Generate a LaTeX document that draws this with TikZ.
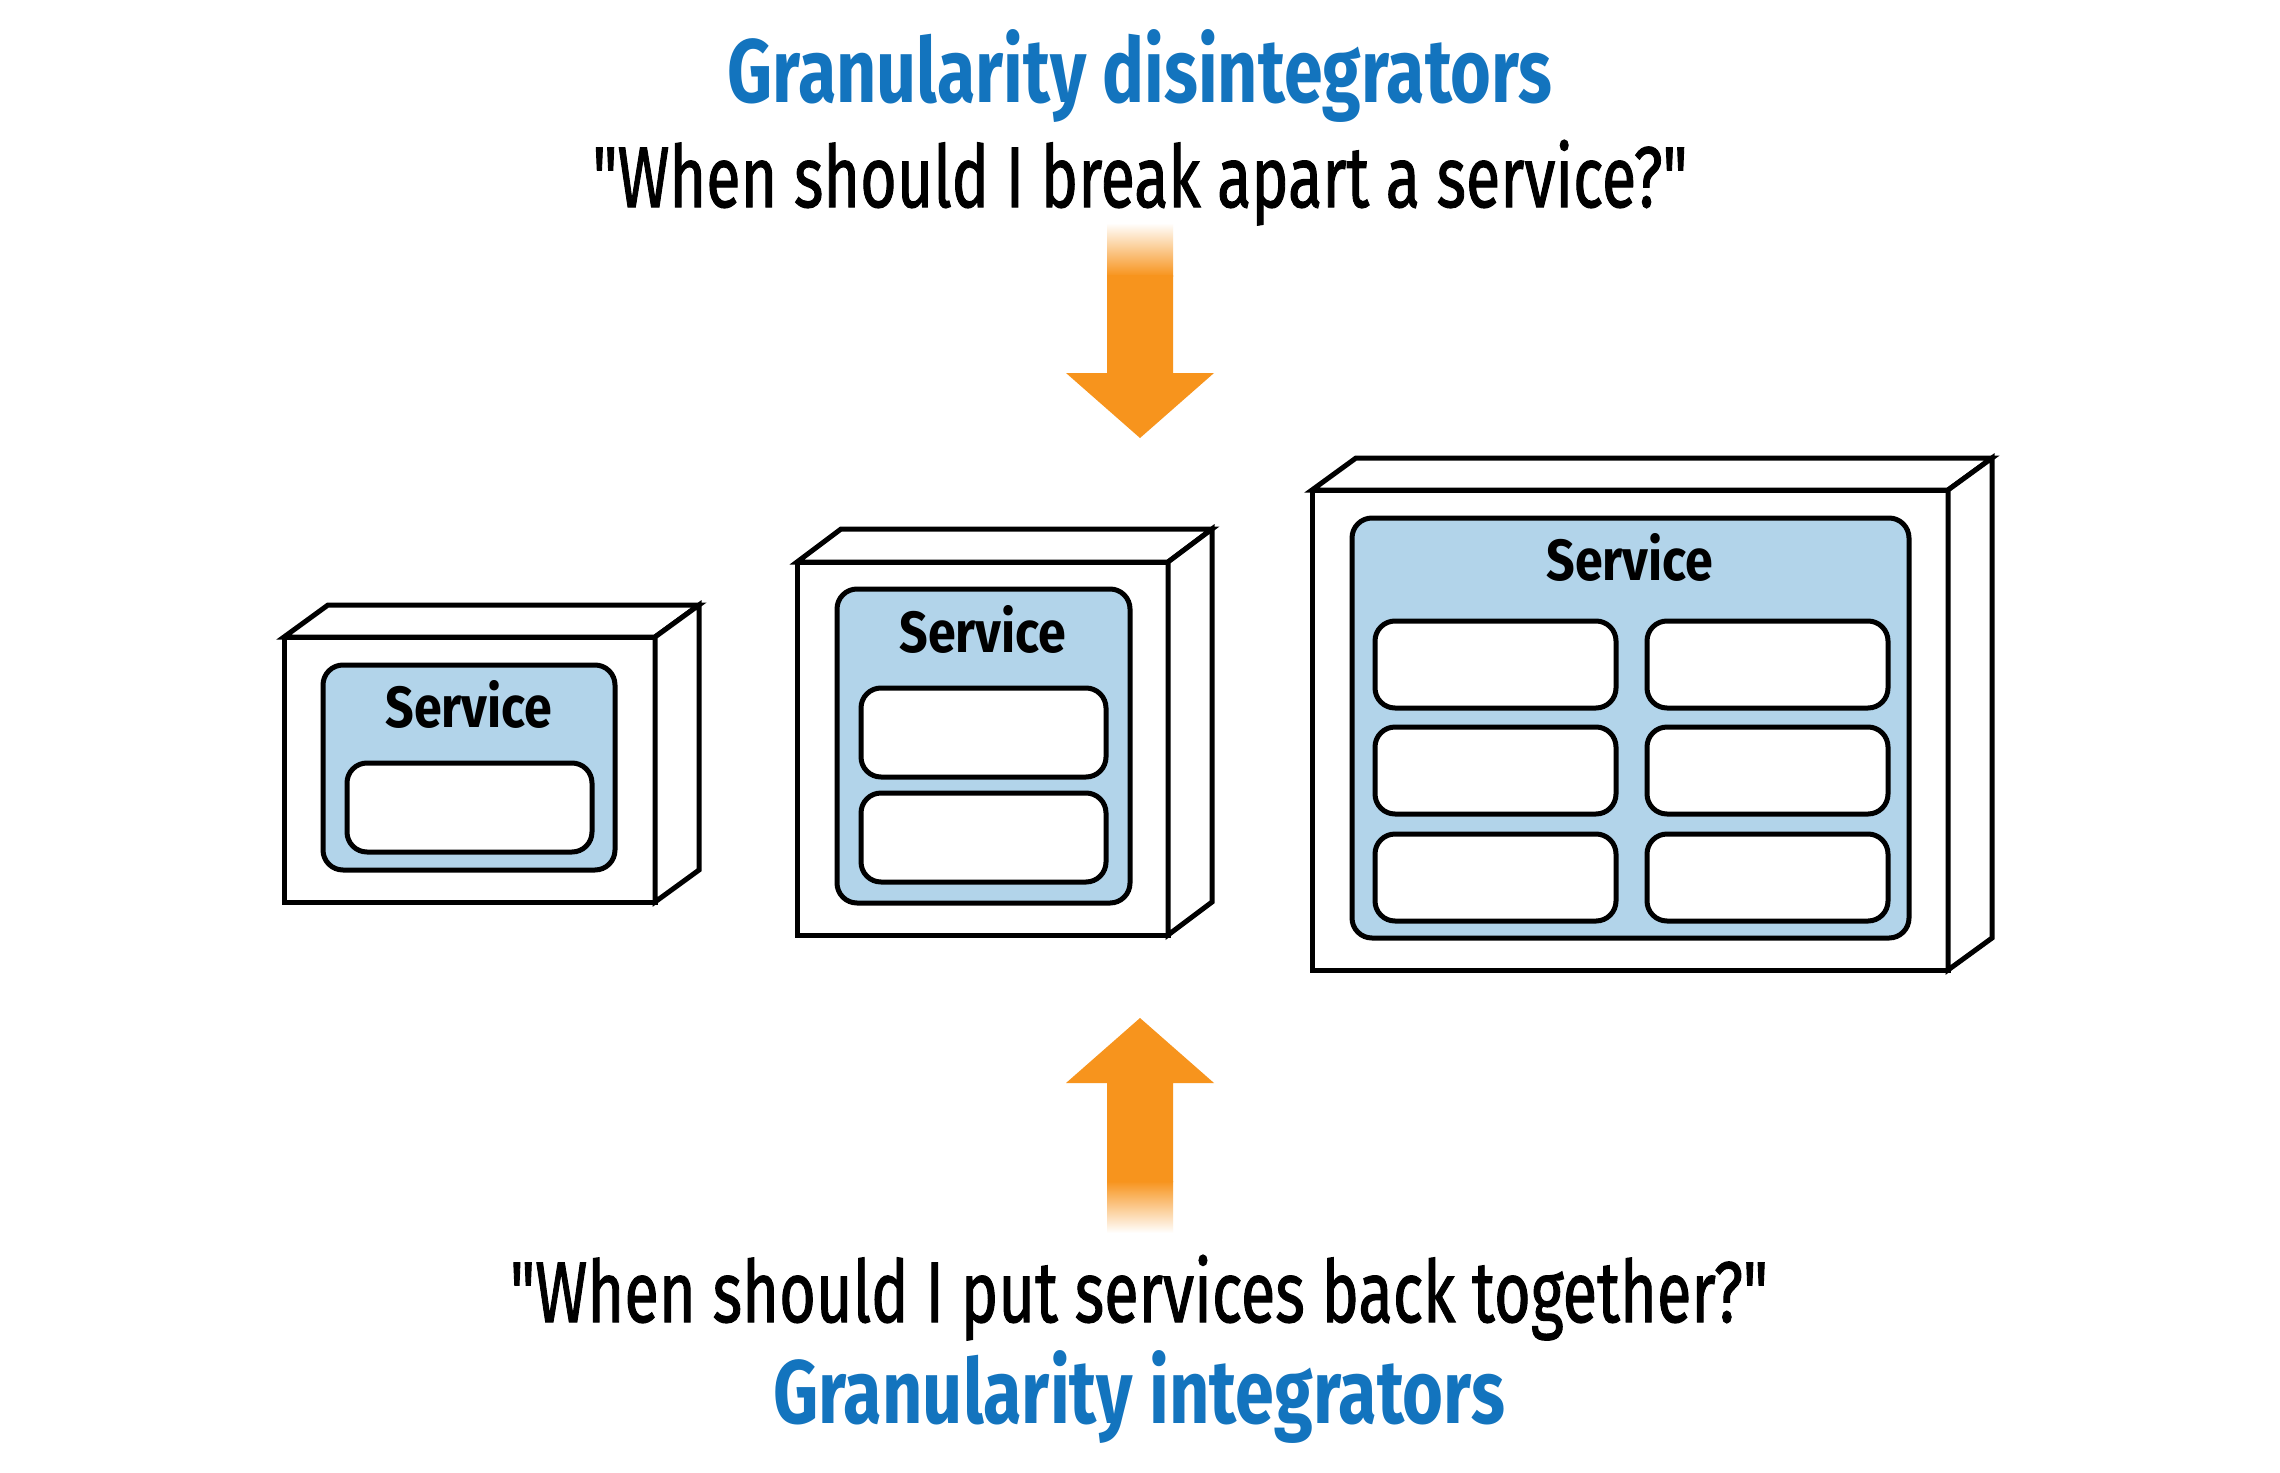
\documentclass[tikz,border=0pt]{standalone}
\usepackage{graphicx}
\usepackage{fontspec}
\setmainfont[Ligatures=TeXOff]{Fira Sans}
\newfontfamily\quotefont[Ligatures=TeXOff,FakeBold=1.4]{Fira Sans}

\definecolor{ttlblue}{RGB}{19,116,190}
\definecolor{svcblue}{RGB}{178,212,234}
\definecolor{arrorange}{RGB}{247,148,29}

\tikzset{
  face/.style={draw=black,fill=white,line width=5pt,line join=miter},
  svcpanel/.style={draw=black,fill=svcblue,line width=5pt,rounded corners=20pt},
  part/.style={draw=black,fill=white,line width=5pt,rounded corners=20pt},
  ttl/.style={anchor=base,inner sep=0pt,text=ttlblue,font=\fontsize{90}{100}\selectfont\bfseries},
  quote/.style={anchor=base,inner sep=0pt,text=black,font=\fontsize{86}{96}\quotefont},
  svctext/.style={anchor=base,inner sep=0pt,text=black,font=\fontsize{58}{64}\selectfont\bfseries},
  bigarrow/.style={fill=arrorange,draw=none},
}
\newcommand\fitw[2]{\resizebox{#1}{\height}{#2}}

\begin{document}
\begin{tikzpicture}[x=1pt,y=-1pt]

  \useasboundingbox (0,0) rectangle (2280,1472);
  \fill[white] (0,0) rectangle (2280,1472);

  % top texts
  \node[ttl] (disint) at (1140,102) {\fitw{825pt}{Granularity disintegrators}};
  \node[quote] (breakq) at (1140,207) {\fitw{1095pt}{"When should I break apart a service?"}};

  % down arrow
  \shade[top color=white,bottom color=arrorange] (1107,223) rectangle (1173,276);
  \path[bigarrow] (1107,275) -- (1107,373) -- (1066,373) -- (1140,438)
    -- (1214,373) -- (1173,373) -- (1173,275) -- cycle;

  % small service
  \draw[face] (284,637) rectangle (655,902);
  \draw[face] (284,637) -- ++(44,-32) -- ++(371,0) -- (655,637) -- cycle;
  \draw[face] (655,637) -- ++(44,-32) -- ++(0,265) -- (655,902) -- cycle;
  \draw[svcpanel] (323,665) rectangle (615,870);
  \node[svctext] (svc1) at (469,727) {\fitw{167pt}{Service}};
  \draw[part] (347,763) rectangle (592,852);

  % medium service
  \draw[face] (797,562) rectangle (1168,935);
  \draw[face] (797,562) -- ++(44,-33) -- ++(371,0) -- (1168,562) -- cycle;
  \draw[face] (1168,562) -- ++(44,-33) -- ++(0,373) -- (1168,935) -- cycle;
  \draw[svcpanel] (837,589) rectangle (1130,903);
  \node[svctext] (svc2) at (983,652) {\fitw{167pt}{Service}};
  \foreach \y in {688,793}
    \draw[part] (861,\y) rectangle ++(245,89);

  % large service
  \draw[face] (1312,490) rectangle (1948,970);
  \draw[face] (1312,490) -- ++(44,-32) -- ++(636,0) -- (1948,490) -- cycle;
  \draw[face] (1948,490) -- ++(44,-32) -- ++(0,480) -- (1948,970) -- cycle;
  \draw[svcpanel] (1352,518) rectangle (1909,938);
  \node[svctext] (svc3) at (1630,580) {\fitw{167pt}{Service}};
  \foreach \x in {1375,1647}
    \foreach \y in {621,727,834}
      \draw[part] (\x,\y) rectangle ++(241,87);

  % up arrow
  \shade[top color=arrorange,bottom color=white] (1107,1181) rectangle (1173,1233);
  \path[bigarrow] (1107,1182) -- (1107,1083) -- (1066,1083) -- (1140,1018)
    -- (1214,1083) -- (1173,1083) -- (1173,1182) -- cycle;

  % bottom texts
  \node[quote] (joinq) at (1139,1322) {\fitw{1258pt}{"When should I put services back together?"}};
  \node[ttl] (integ) at (1139,1423) {\fitw{732pt}{Granularity integrators}};

\end{tikzpicture}
\end{document}
